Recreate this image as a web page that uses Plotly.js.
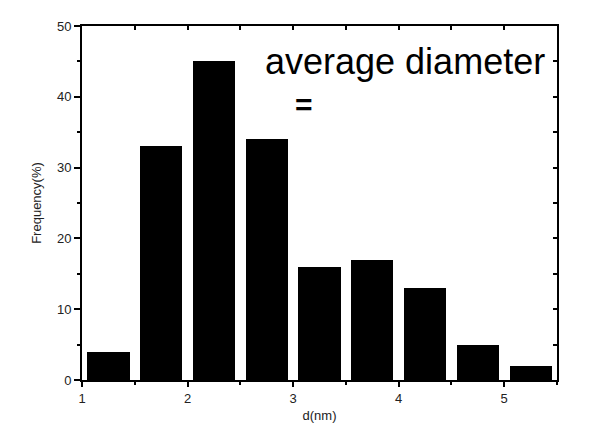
<!DOCTYPE html>
<html>
<head>
<meta charset="utf-8">
<script src="https://cdn.plot.ly/plotly-3.0.1.min.js"></script>
<style>
  html, body { margin: 0; padding: 0; background: #fff; }
  #chart { width: 600px; height: 434px; }
</style>
</head>
<body>
<div id="chart"></div>
<script>
// bin centres (nm) and frequency (%)
var diameters = [1.25, 1.75, 2.25, 2.75, 3.25, 3.75, 4.25, 4.75, 5.25];
var frequency = [4, 33, 45, 34, 16, 17, 13, 5, 2];
var binWidth = 0.4;

var axisFont = {family: 'Liberation Sans, Arial, sans-serif', size: 13, color: '#222'};

var bars = {
    x: diameters,
    y: frequency,
    type: 'bar',
    width: binWidth,
    marker: {color: '#000', line: {width: 0}},
    hoverinfo: 'x+y'
};

// invisible trace so the top/right mirror axes get drawn (ticks pointing in)
var mirror = {
    x: diameters,
    y: frequency,
    type: 'scatter',
    mode: 'none',
    xaxis: 'x2',
    yaxis: 'y2',
    hoverinfo: 'skip',
    showlegend: false
};

var layout = {
    width: 600,
    height: 434,
    margin: {l: 82, r: 43, t: 26, b: 54},
    paper_bgcolor: '#fff',
    plot_bgcolor: '#fff',
    showlegend: false,
    bargap: 0,
    xaxis: {
        range: [1, 5.5],
        dtick: 1,
        tick0: 1,
        ticks: 'outside',
        ticklen: 5,
        tickwidth: 2,
        tickcolor: '#000',
        showline: true,
        linewidth: 2,
        linecolor: '#000',
        showgrid: false,
        zeroline: false,
        tickfont: axisFont,
        minor: {dtick: 0.5, ticks: 'outside', ticklen: 3, tickwidth: 2, tickcolor: '#000', showgrid: false},
        title: {text: 'd(nm)', font: axisFont, standoff: 6}
    },
    yaxis: {
        range: [0, 50],
        dtick: 10,
        ticks: 'outside',
        ticklen: 6,
        tickwidth: 2,
        tickcolor: '#000',
        showline: true,
        linewidth: 2,
        linecolor: '#000',
        showgrid: false,
        zeroline: false,
        tickfont: axisFont,
        minor: {dtick: 5, ticks: 'outside', ticklen: 3, tickwidth: 2, tickcolor: '#000', showgrid: false},
        title: {text: 'Frequency(%)', font: axisFont, standoff: 12}
    },
    xaxis2: {
        overlaying: 'x',
        matches: 'x',
        side: 'top',
        range: [1, 5.5],
        dtick: 0.5,
        tick0: 1,
        ticks: 'inside',
        ticklen: 4,
        tickwidth: 2,
        tickcolor: '#000',
        showline: true,
        linewidth: 2,
        linecolor: '#000',
        showgrid: false,
        zeroline: false,
        showticklabels: false
    },
    yaxis2: {
        overlaying: 'y',
        matches: 'y',
        side: 'right',
        range: [0, 50],
        dtick: 5,
        ticks: 'inside',
        ticklen: 4,
        tickwidth: 2,
        tickcolor: '#000',
        showline: true,
        linewidth: 2,
        linecolor: '#000',
        showgrid: false,
        zeroline: false,
        showticklabels: false
    },
    annotations: [
        {
            text: 'average diameter',
            xref: 'paper', yref: 'paper',
            x: 0.979, y: 0.9,
            xanchor: 'right', yanchor: 'middle',
            showarrow: false,
            font: {family: 'Liberation Sans, Arial, sans-serif', size: 36, color: '#000'}
        },
        {
            text: '<b>=</b>',
            xref: 'paper', yref: 'paper',
            x: 0.467, y: 0.778,
            xanchor: 'center', yanchor: 'middle',
            showarrow: false,
            font: {family: 'Liberation Sans, Arial, sans-serif', size: 30, color: '#000'}
        }
    ]
};

Plotly.newPlot('chart', [bars, mirror], layout, {displayModeBar: false, staticPlot: true});
</script>
</body>
</html>
